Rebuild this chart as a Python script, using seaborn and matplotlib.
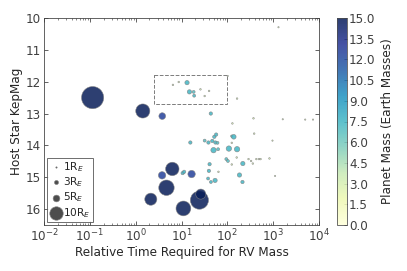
import numpy as np
import pandas as pd
import matplotlib
matplotlib.use("Agg")
import matplotlib.pyplot as plt
import seaborn as sns
from matplotlib.patches import Rectangle
from matplotlib.colors import Normalize
from matplotlib.cm import ScalarMappable
from matplotlib.ticker import FixedLocator, LogLocator, NullFormatter

# ---------------- data ----------------
rel_time = [0.115, 1.43, 3.8, 6.3, 3.77, 16.6, 4.7, 2.14, 11.0, 24.6, 26.3,
            10.6, 11.4, 41, 39.6, 38, 43.8, 54, 64,
            13.2, 14.9, 18.4, 18.9, 6.5, 8.7, 25.9, 40, 32, 102, 163, 1306,
            43.6, 129, 372, 385, 1620, 5000, 7400, 966,
            15.6, 32, 38.7, 47, 52, 57, 55, 61, 125, 138, 125,
            50, 63, 108, 163,
            95, 103, 160, 290, 330, 360, 430, 490, 530, 830,
            218, 125, 1100, 184, 214]
kepmag = [12.5, 12.92, 13.08, 14.74, 14.94, 14.9, 15.33, 15.69, 15.98, 15.72, 15.53,
          14.87, 14.83, 14.59, 14.8, 15.04, 15.15, 15.1, 14.83,
          12.03, 12.32, 12.32, 12.44, 12.1, 12.01, 12.24, 12.29, 12.45, 11.82, 12.53, 10.29,
          13.0, 13.31, 13.15, 13.63, 13.18, 13.19, 13.19, 13.85,
          13.91, 13.85, 13.91, 13.86, 13.73, 13.66, 13.91, 13.92, 13.71, 13.73, 13.92,
          14.15, 14.12, 14.1, 14.12,
          14.43, 14.49, 14.38, 14.43, 14.49, 14.57, 14.43, 14.43, 14.43, 14.41,
          14.57, 14.6, 14.96, 14.93, 15.15]
radius = [16.5, 10.5, 5.0, 10.0, 5.5, 5.5, 11.5, 9.0, 11.0, 13.5, 7.5,
          2.5, 2.5, 2.5, 2.5, 2.2, 2.2, 3.2, 1.2,
          3.2, 3.2, 2.2, 2.2, 1.2, 1.2, 1.2, 1.2, 1.2, 1.0, 1.2, 1.0,
          2.5, 1.2, 1.2, 1.2, 1.0, 1.0, 1.0, 1.0,
          2.5, 2.2, 2.5, 2.5, 2.5, 2.5, 2.5, 2.2, 1.8, 3.5, 1.2,
          4.0, 2.2, 4.0, 4.0,
          2.2, 2.2, 1.2, 1.2, 1.2, 1.2, 1.2, 1.2, 1.2, 1.2,
          3.2, 1.2, 1.0, 3.2, 2.5]
mass = [15.0, 15.0, 12.5, 15.0, 12.5, 12.5, 15.0, 15.0, 15.0, 15.0, 15.0,
        7.5, 7.5, 7.5, 7.5, 7.5, 7.5, 7.5, 3.0,
        7.5, 7.5, 7.0, 7.5, 3.0, 3.0, 3.0, 3.0, 3.0, 3.0, 3.0, 3.0,
        7.5, 3.0, 3.0, 3.0, 3.0, 3.0, 3.0, 3.0,
        7.5, 7.0, 7.5, 7.5, 7.5, 7.5, 7.5, 7.0, 6.5, 7.5, 3.0,
        7.5, 7.0, 7.5, 7.5,
        7.0, 7.0, 3.0, 3.0, 3.0, 3.0, 3.0, 3.0, 3.0, 3.0,
        7.5, 3.0, 3.0, 7.5, 7.5]

legend_radii = [1, 3, 5, 10]
legend_labels = ["1R$_E$", "3R$_E$", "5R$_E$", "10R$_E$"]
box_x = (2.5, 100)
box_y = (11.8, 12.7)
mass_ticks = [0.0, 1.5, 3.0, 4.5, 6.0, 7.5, 9.0, 10.5, 12.0, 13.5, 15.0]
x_ticks = [1e-2, 1e-1, 1e0, 1e1, 1e2, 1e3, 1e4]
y_ticks = [10, 11, 12, 13, 14, 15, 16]

SIZE_K = 1.8
ALPHA = 0.85
df = pd.DataFrame({"t": rel_time, "mag": kepmag, "R": radius, "M": mass})
df["s"] = SIZE_K * df["R"] ** 2

# ---------------- style ----------------
sns.set_style("ticks", rc={
    "xtick.direction": "in", "ytick.direction": "in",
    "xtick.top": True, "ytick.right": True,
    "axes.edgecolor": "0.25", "axes.linewidth": 1.0,
    "xtick.color": "0.25", "ytick.color": "0.25",
    "xtick.labelcolor": "black", "ytick.labelcolor": "black",
})
plt.rcParams["font.family"] = ["DejaVu Sans"]
plt.rcParams["font.size"] = 12

DPI = 72
fig = plt.figure(figsize=(407 / DPI, 271 / DPI), dpi=DPI)
ax = fig.add_axes([44 / 407, 46 / 271, 275 / 407, 207 / 271])
cax = fig.add_axes([337 / 407, 46 / 271, 10 / 407, 207 / 271])

cmap = plt.get_cmap("YlGnBu")
norm = Normalize(0, 15)
smin, smax = df["s"].min(), df["s"].max()
sns.scatterplot(data=df, x="t", y="mag", hue="M", palette=cmap, hue_norm=norm,
                size="s", sizes=(smin, smax), size_norm=(smin, smax), alpha=ALPHA,
                edgecolor="0.5", linewidth=0.6, legend=False, ax=ax)

ax.set_xscale("log")
ax.set_xlim(1e-2, 1e4)
ax.set_ylim(16.5, 10)
ax.xaxis.set_major_locator(FixedLocator(x_ticks))
ax.xaxis.set_minor_locator(LogLocator(base=10, subs=np.arange(2, 10), numticks=20))
ax.xaxis.set_minor_formatter(NullFormatter())
ax.set_yticks(y_ticks)
ax.tick_params(which="major", length=4, labelsize=12, pad=3)
ax.tick_params(which="minor", length=2)
ax.set_xlabel("Relative Time Required for RV Mass", fontsize=12, labelpad=1)
ax.set_ylabel("Host Star KepMag", fontsize=12, labelpad=3)

ax.add_patch(Rectangle((box_x[0], box_y[0]), box_x[1] - box_x[0], box_y[1] - box_y[0],
                       fill=False, edgecolor="0.5", linestyle="--", linewidth=1.0))

handles = [ax.scatter([], [], s=SIZE_K * r ** 2, color="0.3", edgecolor="0.5", linewidth=0.6)
           for r in legend_radii]
leg = ax.legend(handles, legend_labels, loc="lower left", fontsize=10.5, frameon=True,
                fancybox=False, borderpad=0.2, handletextpad=0.05, labelspacing=0.15,
                borderaxespad=0.3, handlelength=1.3)
leg.get_frame().set_edgecolor("0.3")
leg.get_frame().set_linewidth(1.0)

cb = fig.colorbar(ScalarMappable(norm=norm, cmap=cmap), cax=cax, ticks=mass_ticks,
                  format="%.1f", alpha=ALPHA)
cb.outline.set_edgecolor("0.3")
cb.ax.tick_params(direction="in", length=3, labelsize=12, pad=2)
cb.set_label("Planet Mass (Earth Masses)", fontsize=12, labelpad=6)

fig.savefig("out.png", dpi=DPI)
